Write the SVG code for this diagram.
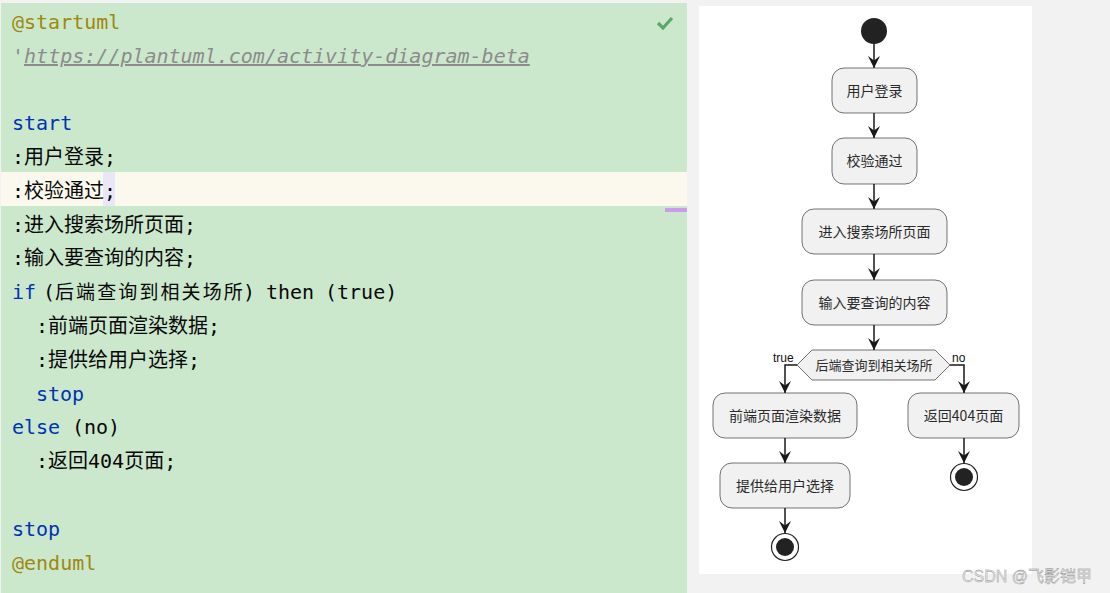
<svg xmlns="http://www.w3.org/2000/svg" width="1110" height="593" viewBox="0 0 1110 593">
<defs>
<style>
.code{font-family:"DejaVu Sans Mono","Noto Sans CJK SC",monospace;font-size:20px;fill:#080808;}
.kw{fill:#0033b3;}
.ann{fill:#9e880d;}
.cmt{fill:#8c8c8c;font-style:italic;}
.ul{text-decoration:underline;}
.box{fill:#f1f1f1;stroke:#181818;stroke-width:0.6;}
.lbl{font-family:"Noto Sans CJK SC","Liberation Sans",sans-serif;font-size:14px;fill:#2a2a2a;text-anchor:middle;}
.small{font-family:"Liberation Sans",Arial,sans-serif;font-size:12px;fill:#111;}
.edge{fill:none;stroke:#181818;stroke-width:1.5;marker-end:url(#ah);}
</style>
<marker id="ah" viewBox="0 0 12 12" refX="12" refY="6" markerWidth="12" markerHeight="12" markerUnits="userSpaceOnUse" orient="auto">
<path d="M0,0 L12,6 L0,12 L4.5,6 Z" fill="#181818"/>
</marker>
</defs>
<rect x="0" y="0" width="1110" height="593" fill="#f2f2f2"/>
<g id="editor">
<rect x="1" y="3" width="686" height="590" fill="#cbe8cd"/>
<rect x="1" y="172" width="686" height="34" fill="#fbf9ee"/>
<rect x="103" y="172" width="12" height="34" fill="#e9e7f6"/>
<rect x="665" y="208" width="22" height="4" fill="#c99cf0"/>
<polyline points="658,23 663,28 672,18" fill="none" stroke="#59a869" stroke-width="3.2"/>
<text class="code ann" x="12" y="29">@startuml</text>
<text class="code cmt" x="12" y="63">'<tspan class="ul">https://plantuml.com/activity-diagram-beta</tspan></text>
<text class="code kw" x="12" y="130">start</text>
<text class="code" x="12" y="164">:用户登录;</text>
<text class="code" x="12" y="198">:校验通过;</text>
<text class="code" x="12" y="232">:进入搜索场所页面;</text>
<text class="code" x="12" y="265">:输入要查询的内容;</text>
<text class="code" y="299"><tspan class="kw" x="12">if</tspan><tspan x="43">(</tspan><tspan x="55" font-size="19" letter-spacing="2.1">后端查询到相关场所</tspan><tspan x="243">)</tspan><tspan x="266">then</tspan><tspan x="325">(true)</tspan></text>
<text class="code" x="36" y="333">:前端页面渲染数据;</text>
<text class="code" x="36" y="367">:提供给用户选择;</text>
<text class="code kw" x="36" y="401">stop</text>
<text class="code" y="434"><tspan class="kw" x="12">else</tspan><tspan x="72">(no)</tspan></text>
<text class="code" x="36" y="468">:返回404页面;</text>
<text class="code kw" x="12" y="536">stop</text>
<text class="code ann" x="12" y="570">@enduml</text>
</g>
<rect x="699" y="6" width="333" height="568" fill="#ffffff"/>
<g id="connectors">
<path class="edge" d="M874,44 V68"/>
<path class="edge" d="M874,113 V138"/>
<path class="edge" d="M874,184 V209"/>
<path class="edge" d="M874,254 V280"/>
<path class="edge" d="M874,325 V350"/>
<path class="edge" d="M797,365 H785 V393"/>
<path class="edge" d="M950,365 H964 V393"/>
<path class="edge" d="M785,438 V463"/>
<path class="edge" d="M785,508 V533"/>
<path class="edge" d="M964,438 V463"/>
<text class="small" x="773" y="362">true</text>
<text class="small" x="952" y="362">no</text>
</g>
<g id="start"><circle cx="874" cy="31" r="13" fill="#222"/></g>
<g id="n1"><rect class="box" x="832" y="68" width="85" height="45" rx="12"/><text class="lbl" x="874.5" y="96">用户登录</text></g>
<g id="n2"><rect class="box" x="832" y="138" width="85" height="46" rx="12"/><text class="lbl" x="874.5" y="166">校验通过</text></g>
<g id="n3"><rect class="box" x="802" y="209" width="145" height="45" rx="12"/><text class="lbl" x="874.5" y="237">进入搜索场所页面</text></g>
<g id="n4"><rect class="box" x="802" y="280" width="145" height="45" rx="12"/><text class="lbl" x="874.5" y="308">输入要查询的内容</text></g>
<g id="decision"><polygon class="box" points="797,365 812,350 935,350 950,365 935,380 812,380"/><text class="lbl" x="874" y="370" style="font-size:13px">后端查询到相关场所</text></g>
<g id="n5"><rect class="box" x="713" y="393" width="144" height="45" rx="12"/><text class="lbl" x="785" y="421">前端页面渲染数据</text></g>
<g id="n6"><rect class="box" x="908" y="393" width="111" height="45" rx="12"/><text class="lbl" x="963.5" y="421">返回404页面</text></g>
<g id="n7"><rect class="box" x="720" y="463" width="130" height="45" rx="12"/><text class="lbl" x="785" y="491">提供给用户选择</text></g>
<g id="stop1"><circle cx="785" cy="547" r="13.5" fill="#fff" stroke="#222" stroke-width="1.2"/><circle cx="785" cy="547" r="9" fill="#222"/></g>
<g id="stop2"><circle cx="964" cy="477" r="13.5" fill="#fff" stroke="#222" stroke-width="1.2"/><circle cx="964" cy="477" r="9" fill="#222"/></g>
<text x="962" y="582" font-family="Liberation Sans, Noto Sans CJK SC, sans-serif" font-size="16" fill="#e6e6e6" stroke="#8a8a8a" stroke-width="0.35">CSDN @飞影铠甲</text>
</svg>
